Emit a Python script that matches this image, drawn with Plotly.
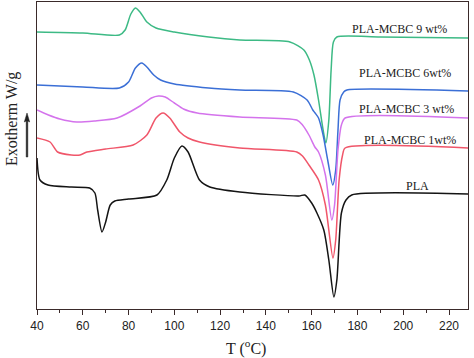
import plotly.graph_objects as go

# Temperature (°C) and heat-flow signal (arbitrary units, offset per curve)
t_9 = [40, 60, 76, 78.5, 81, 83, 85, 88, 92, 100, 115, 128.6, 150.5, 156.6, 159, 161, 163, 165, 166.2, 167.5, 168.5, 169.5, 171, 190, 228.5]
s_9 = [277, 276, 274, 279, 295, 301, 297, 287, 281, 277, 272, 269, 267, 259, 249, 234, 209, 179, 166, 189, 239, 267, 272, 272, 271]

t_6 = [40, 60, 76, 80, 83, 85.8, 88, 91, 94, 100, 115, 128.6, 152, 158, 160.5, 161.5, 163, 165, 167, 169.2, 170.5, 171.5, 172.4, 174, 175.4, 228.5]
s_6 = [224, 222, 221, 227, 241, 246, 242, 234, 229, 225, 221, 219, 217, 209, 199, 196, 191, 174, 149, 124, 139, 179, 209, 217, 219, 218]

t_3 = [40, 45, 50, 57.4, 65, 75, 85, 90, 93, 96, 100, 104, 110, 128.6, 153.5, 156, 158.8, 161.4, 163, 166, 168.8, 170, 171.5, 173, 174.6, 228.5]
s_3 = [199, 194, 190, 187, 188, 191, 203, 211, 213, 212, 206, 200, 196, 192, 189, 184, 174, 162, 157, 134, 89, 104, 159, 184, 191, 191]

t_1 = [40, 45.7, 49, 55, 58.8, 61.8, 70, 82, 88, 92, 95.1, 98, 102.4, 106, 111, 128.6, 153.5, 156, 158.8, 163, 166, 169.3, 170.5, 172, 173.5, 174.6, 228.5]
s_1 = [171, 167, 157, 154, 154, 157, 160, 164, 174, 191, 196, 191, 177, 171, 167, 161, 157, 153, 144, 129, 104, 51, 69, 129, 154, 161, 161]

t_0 = [40, 41.3, 44.8, 55, 63, 65.3, 66.5, 68.4, 70, 72, 74, 80, 92.4, 96.7, 100, 103.3, 106, 111, 115.5, 128.6, 154.4, 157, 160, 162.3, 165.3, 167.5, 169.7, 171, 173, 175, 177.5, 228.5]
s_0 = [151, 129, 124, 122, 121, 116, 99, 77, 87, 104, 108, 110, 114, 129, 151, 163, 157, 129, 122, 117, 113, 114, 106, 96, 79, 49, 12, 29, 96, 109, 114, 115]

series = [
    ("PLA-MCBC 9 wt%", t_9, s_9, "#3dba85"),
    ("PLA-MCBC 6wt%", t_6, s_6, "#3b6fd6"),
    ("PLA-MCBC 3 wt%", t_3, s_3, "#d473ec"),
    ("PLA-MCBC 1wt%", t_1, s_1, "#f0566a"),
    ("PLA", t_0, s_0, "#141414"),
]

label_pos = {
    "PLA-MCBC 9 wt%": (198.5, 280),
    "PLA-MCBC 6wt%": (200.7, 236),
    "PLA-MCBC 3 wt%": (201.6, 200),
    "PLA-MCBC 1wt%": (202.9, 169),
    "PLA": (206.4, 123),
}

fig = go.Figure()
for name, t, s, c in series:
    fig.add_trace(go.Scatter(x=t, y=s, mode="lines", name=name,
                             line=dict(color=c, width=1.5, shape="spline", smoothing=0.7),
                             showlegend=False, hoverinfo="skip"))

L, R, T, B = 37, 6, 2, 49
W, H = 474, 358
pw, ph = W - L - R, H - T - B

def px(x):
    return (x - L) / pw

def py(y):
    return (H - B - y) / ph

annotations = []
for name, (tx, ty) in label_pos.items():
    annotations.append(dict(x=tx, y=ty, xref="x", yref="y", text=name, showarrow=False,
                            xanchor="center", yanchor="middle",
                            font=dict(family="Liberation Serif", size=12, color="#222")))

annotations.append(dict(x=px(246), y=py(347), xref="paper", yref="paper",
                        xanchor="center", yanchor="middle",
                        text="T (<sup>o</sup>C)", showarrow=False,
                        font=dict(family="Liberation Serif", size=16, color="#222")))
annotations.append(dict(x=px(12), y=py(119), xref="paper", yref="paper",
                        xanchor="center", yanchor="middle",
                        text="Exotherm W/g", textangle=-90, showarrow=False,
                        font=dict(family="Liberation Serif", size=16, color="#222")))

# up-pointing arrow drawn as a filled polygon (shaft + head)
arrow_pts = [(26.2, 157), (26.2, 121), (24.3, 122), (27, 113), (29.7, 122), (27.8, 121), (27.8, 157)]
arrow_path = "M " + " L ".join(f"{px(a):.5f} {py(b):.5f}" for a, b in arrow_pts) + " Z"
shapes = [
    dict(type="path", xref="paper", yref="paper", path=arrow_path,
         fillcolor="#222", line=dict(color="#222", width=0.5), layer="above"),
]

fig.update_layout(
    width=W, height=H,
    margin=dict(l=L, r=R, t=T, b=B),
    paper_bgcolor="white", plot_bgcolor="white",
    annotations=annotations,
    shapes=shapes,
    xaxis=dict(range=[40, 228.3], tickvals=[40, 60, 80, 100, 120, 140, 160, 180, 200, 220],
               ticks="outside", ticklen=5, tickwidth=1, tickcolor="#3a2a2a",
               minor=dict(tickvals=[50, 70, 90, 110, 130, 150, 170, 190, 210], ticks="outside",
                          ticklen=3, tickcolor="#3a2a2a"),
               showline=True, linecolor="#3a2a2a", linewidth=1.2, mirror=True,
               showgrid=False, zeroline=False, automargin=False,
               tickfont=dict(family="Liberation Sans", size=12, color="#222")),
    yaxis=dict(range=[0, 307], showticklabels=False, ticks="",
               showline=True, linecolor="#3a2a2a", linewidth=1.2, mirror=True,
               showgrid=False, zeroline=False, automargin=False),
)

fig.write_html("out.html", config={"displayModeBar": False},
               post_script="document.body.style.margin='0';")
